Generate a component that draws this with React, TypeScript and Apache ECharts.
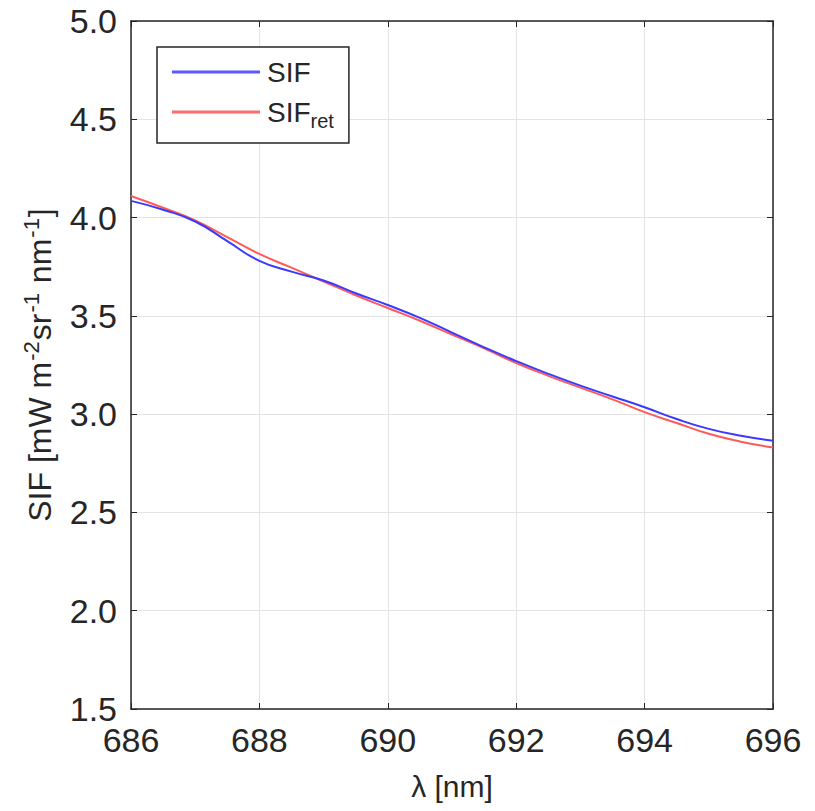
import React, { useEffect, useRef } from "react";
import * as echarts from "echarts";

const wavelengths = [686, 686.5, 687, 687.5, 688, 688.5, 689, 689.5, 690, 690.5, 691, 691.5, 692, 692.5, 693, 693.5, 694, 694.5, 695, 695.5, 696];
const sifValues = [4.085, 4.04, 3.98, 3.88, 3.78, 3.725, 3.68, 3.615, 3.555, 3.49, 3.415, 3.34, 3.27, 3.205, 3.145, 3.09, 3.035, 2.975, 2.925, 2.89, 2.865];
const sifRetValues = [4.11, 4.05, 3.985, 3.9, 3.815, 3.745, 3.675, 3.605, 3.54, 3.475, 3.405, 3.335, 3.26, 3.195, 3.135, 3.075, 3.01, 2.955, 2.9, 2.86, 2.83];
const xTicks = [686, 688, 690, 692, 694, 696];
const yTicks = [1.5, 2.0, 2.5, 3.0, 3.5, 4.0, 4.5, 5.0];

const FONT = "'Liberation Sans', Arial, Helvetica, sans-serif";

export default function App() {
  const ref = useRef<HTMLDivElement>(null);
  useEffect(() => {
    if (!ref.current) return;
    const chart = echarts.init(ref.current, undefined, { renderer: "svg" });
    const sif = wavelengths.map((x, i) => [x, sifValues[i]]);
    const sifRet = wavelengths.map((x, i) => [x, sifRetValues[i]]);
    const axisLine = { show: true, lineStyle: { color: "#262626", width: 1.5 } };
    const tickStyle = { show: true, inside: true, length: 6, lineStyle: { color: "#262626", width: 1 } };
    chart.setOption({
      animation: false,
      backgroundColor: "#ffffff",
      textStyle: { fontFamily: FONT },
      grid: { left: 131, top: 21, right: 42, bottom: 102, show: false },
      legend: {
        left: 157,
        top: 47,
        orient: "vertical",
        data: ["SIF", "SIFret"],
        itemWidth: 88,
        itemHeight: 3,
        itemGap: 12,
        padding: [11, 15, 12, 15],
        borderColor: "#262626",
        borderWidth: 1.5,
        backgroundColor: "#ffffff",
        icon: "rect",
        formatter: (name: string) => (name === "SIFret" ? "SIF{sub|ret}" : name),
        textStyle: {
          fontFamily: FONT,
          fontSize: 28,
          color: "#262626",
          padding: [0, 0, 0, 2],
          rich: {
            sub: { fontFamily: FONT, fontSize: 20, color: "#262626", verticalAlign: "bottom", padding: [18, 0, 0, 0] },
          },
        },
      },
      xAxis: [
        {
          type: "value",
          min: 686,
          max: 696,
          interval: 2,
          name: "λ [nm]",
          nameLocation: "middle",
          nameGap: 62,
          nameTextStyle: { fontFamily: FONT, fontSize: 30, color: "#262626" },
          axisLine,
          axisTick: tickStyle,
          axisLabel: { fontFamily: FONT, fontSize: 34, color: "#262626", margin: 14, formatter: (v: number) => (xTicks.includes(v) ? String(v) : "") },
          splitLine: { show: true, lineStyle: { color: "#e3e3e3", width: 1 } },
        },
        {
          type: "value",
          position: "top",
          min: 686,
          max: 696,
          interval: 2,
          axisLine,
          axisTick: tickStyle,
          axisLabel: { show: false },
          splitLine: { show: false },
        },
      ],
      yAxis: [
        {
          type: "value",
          min: 1.5,
          max: 5.0,
          interval: 0.5,
          name: "SIF [mW m{sup|-2}sr{sup|-1} nm{sup|-1}]",
          nameLocation: "middle",
          nameGap: 68,
          nameRotate: 90,
          nameTextStyle: {
            fontFamily: FONT,
            fontSize: 32,
            color: "#262626",
            lineHeight: 38,
            rich: {
              sup: { fontFamily: FONT, fontSize: 22, color: "#262626", verticalAlign: "top", lineHeight: 38, padding: [0, 1, 14, 1] },
            },
          },
          axisLine,
          axisTick: tickStyle,
          axisLabel: { fontFamily: FONT, fontSize: 34, color: "#262626", margin: 14, formatter: (v: number) => (yTicks.some((t) => Math.abs(t - v) < 1e-9) ? v.toFixed(1) : "") },
          splitLine: { show: true, lineStyle: { color: "#e3e3e3", width: 1 } },
        },
        {
          type: "value",
          position: "right",
          min: 1.5,
          max: 5.0,
          interval: 0.5,
          axisLine,
          axisTick: tickStyle,
          axisLabel: { show: false },
          splitLine: { show: false },
        },
      ],
      series: [
        {
          name: "SIF",
          type: "line",
          data: sif,
          smooth: true,
          showSymbol: false,
          lineStyle: { color: "#3a3aff", width: 2 },
          itemStyle: { color: "#5a5aff" },
          z: 3,
        },
        {
          name: "SIFret",
          type: "line",
          data: sifRet,
          smooth: true,
          showSymbol: false,
          lineStyle: { color: "#ff5a5a", width: 2 },
          itemStyle: { color: "#ff6a6a" },
          z: 2,
        },
      ],
    });
    return () => chart.dispose();
  }, []);
  return <div ref={ref} style={{ position: "absolute", left: 0, top: 0, width: 815, height: 811 }} />;
}
